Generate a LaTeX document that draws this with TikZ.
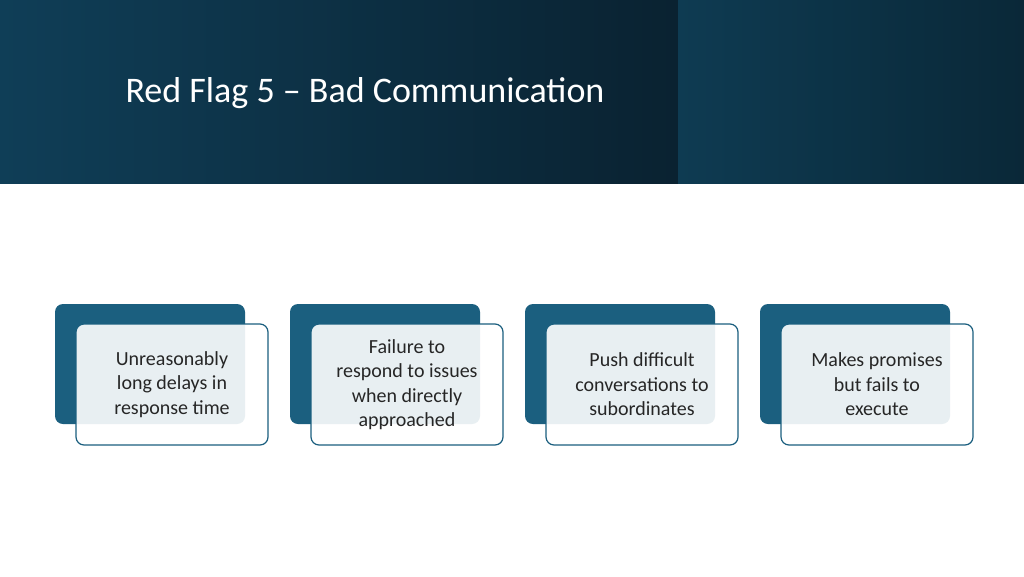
\documentclass[tikz,border=0pt]{standalone}
\usepackage{fontspec}
\setmainfont{Carlito}
\usetikzlibrary{positioning,calc}
\definecolor{cardback}{HTML}{1B5F7F}
\definecolor{headA}{HTML}{0F3E57}
\definecolor{headB}{HTML}{0A2231}
\definecolor{headC}{HTML}{0E3B52}
\definecolor{headD}{HTML}{0A2838}
\begin{document}
\begin{tikzpicture}
  [
    x=1pt, y=-1pt,
    backcard/.style =
      {fill=cardback, rounded corners=8pt, minimum width=190pt, minimum height=120pt},
    frontcard/.style =
      {draw=cardback, line width=1.2pt, fill=white, fill opacity=0.9, text opacity=1,
       rounded corners=8pt, minimum width=192pt, minimum height=121pt,
       align=center, font=\fontsize{20}{24.5}\selectfont, text=black!85}
  ]

\useasboundingbox (0,0) rectangle (1024,576);
\fill[white] (0,0) rectangle (1024,576);

% header band
\shade[left color=headA, right color=headB] (0,0) rectangle (678,183);
\shade[left color=headC, right color=headD] (678,0) rectangle (1024,183);
\node[anchor=west, text=white, font=\fontsize{36}{40}\selectfont] (title) at (122,93)
  {Red Flag 5 -- Bad Communication};

% cards
\foreach \i/\txt in {0/{Unreasonably\\long delays in\\response time},
                     1/{Failure to\\respond to issues\\when directly\\approached},
                     2/{Push difficult\\conversations to\\subordinates},
                     3/{Makes promises\\but fails to\\execute}}
{
  \node[backcard] (back\i) at (150+235*\i,364) {};
  \node[frontcard] (front\i) at (172+235*\i,384.5) {\txt};
}
\end{tikzpicture}
\end{document}
